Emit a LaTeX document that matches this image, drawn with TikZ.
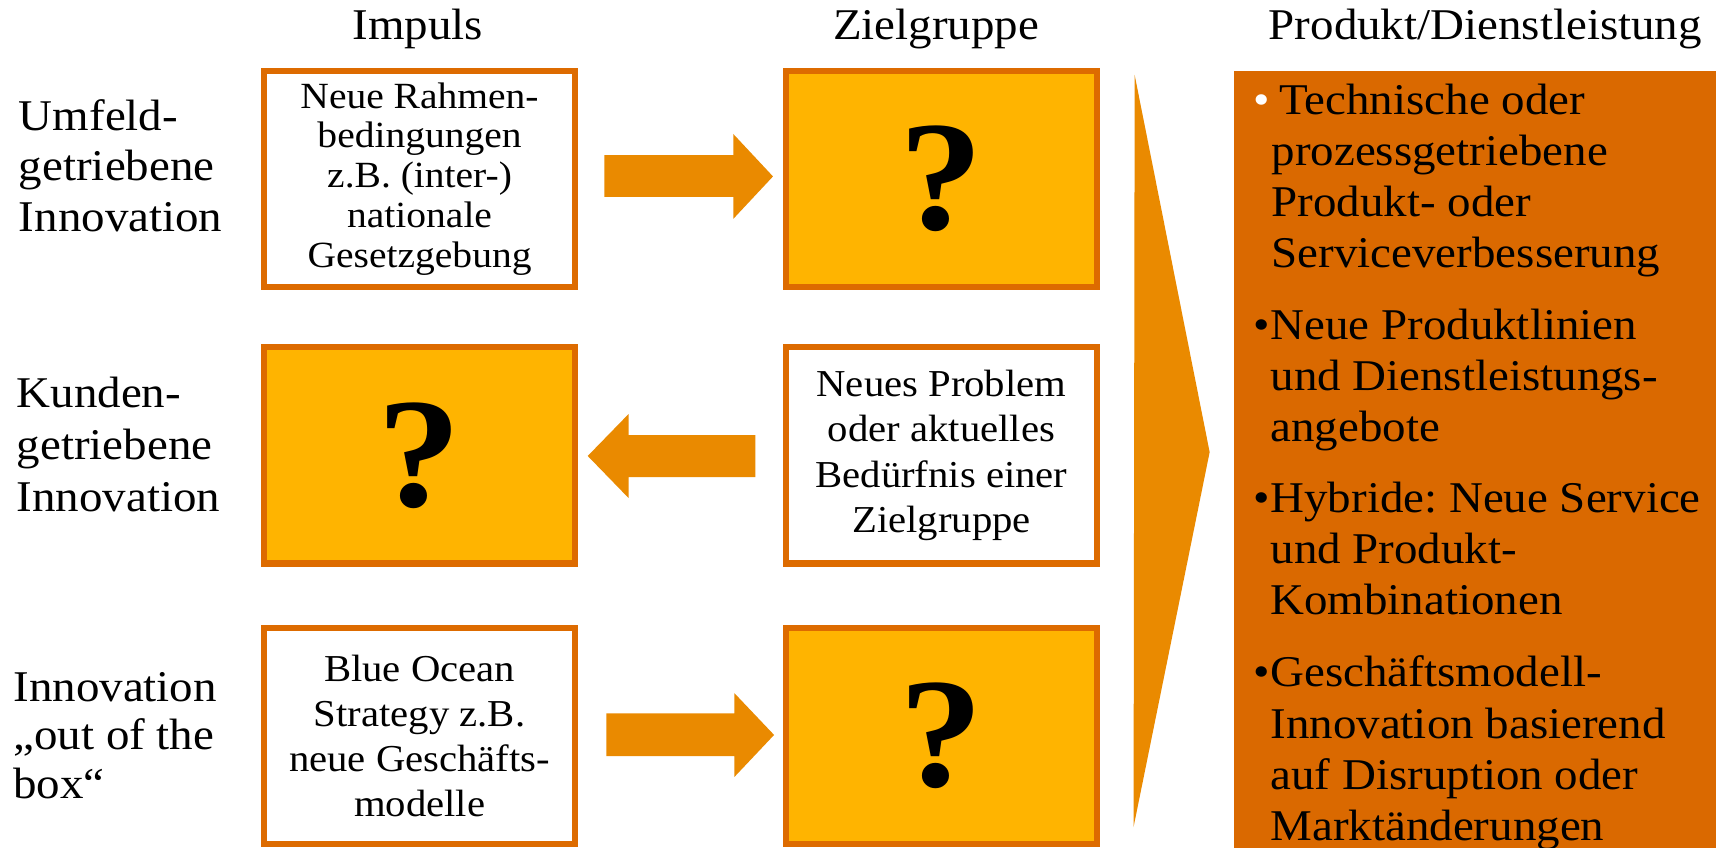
\documentclass[tikz,border=0pt]{standalone}
\usepackage{fontspec}
\setmainfont{Liberation Serif}[FakeStretch=1.07]
\frenchspacing
\definecolor{bord}{HTML}{DD6B00}
\definecolor{gold}{HTML}{FFB400}
\definecolor{arr}{HTML}{EA8A00}
\definecolor{rbox}{HTML}{DA6900}
\begin{document}
\frenchspacing
\begin{tikzpicture}[x=1pt,y=-1pt,
  box/.style={draw=bord, line width=5.5pt, minimum width=281.5pt, minimum height=196pt, inner sep=0pt, align=center},
  whitebox/.style={box, fill=white, font=\fontsize{33.5}{36}\selectfont},
  whitebox2/.style={box, fill=white, font=\fontsize{34.5}{41}\selectfont},
  goldbox/.style={box, fill=gold, font=\fontsize{142}{142}\selectfont\bfseries},
  title/.style={font=\fontsize{39.8}{46}\selectfont, anchor=base, inner sep=0pt},
  lab/.style={font=\fontsize{39.8}{46}\selectfont, anchor=base west, inner sep=0pt},
  rtxt/.style={font=\fontsize{39.8}{46}\selectfont, anchor=base west, inner sep=0pt},
  blockarrow/.style={fill=arr}]
\useasboundingbox (0,0) rectangle (1568,769);
\fill[white] (0,0) rectangle (1568,769);

% titles
\node[title] (tImp) at (379,36) {Impuls};
\node[title] (tZiel) at (849,36) {Zielgruppe};
\node[title] (tProd) at (1347,36) {Produkt/Dienstleistung};

% left labels
\foreach \t [count=\i] in {Umfeld-,getriebene,Innovation}
  \node[lab] (la\i) at (17,{118+(\i-1)*46}) {\t};
\foreach \t [count=\i] in {Kunden-,getriebene,Innovation}
  \node[lab] (lb\i) at (15,{370+(\i-1)*47}) {\t};
\foreach \t [count=\i] in {Innovation,„out of the,box“}
  \node[lab] (lc\i) at (12,{636+(\i-1)*44}) {\t};

% boxes
\node[whitebox] (i1) at (380.5,162.2) {Neue Rahmen-\\bedingungen\\z.B. (inter-)\\nationale\\Gesetzgebung};
\node[goldbox] (z1) at (853.8,162.2) {?};
\node[goldbox] (i2) at (380.5,413) {?};
\node[whitebox2] (z2) at (853.8,413) {Neues Problem\\oder aktuelles\\Bedürfnis einer\\Zielgruppe};
\node[whitebox2] (i3) at (380.5,667.5) {Blue Ocean\\Strategy z.B.\\neue Geschäfts-\\modelle};
\node[goldbox] (z3) at (853.8,667.5) {?};

% block arrows
\fill[blockarrow] (548,140.6) -- (665,140.6) -- (665,121.5) -- (701,160) -- (665,198.5) -- (665,178.6) -- (548,178.6) -- cycle;
\fill[blockarrow] (685,394.5) -- (570,394.5) -- (570,375.5) -- (533,413.5) -- (570,451.6) -- (570,432.6) -- (685,432.6) -- cycle;
\fill[blockarrow] (550,647) -- (666,647) -- (666,628.6) -- (702,666.5) -- (666,704.6) -- (666,685.6) -- (550,685.6) -- cycle;

% chevron
\fill[arr] (1029,68) -- (1097,410) -- (1028,750) -- cycle;

% right box
\fill[rbox] (1119,64) rectangle (1556,790);
\node[rtxt, text=white] (b1) at (1137,104) {•};
\node[rtxt] (r1) at (1160,104) {Technische oder};
\foreach \t [count=\i] in {prozessgetriebene,Produkt- oder,Serviceverbesserung}
  \node[rtxt] (r1\i) at (1153,{104+\i*46.3}) {\t};
\node[rtxt] (b2) at (1137,308) {•};
\foreach \t [count=\i from 0] in {Neue Produktlinien,und Dienstleistungs-,angebote}
  \node[rtxt] (r2\i) at (1152,{308+\i*46.3}) {\t};
\node[rtxt] (b3) at (1137,465) {•};
\foreach \t [count=\i from 0] in {Hybride: Neue Service,und Produkt-,Kombinationen}
  \node[rtxt] (r3\i) at (1152,{465+\i*46.3}) {\t};
\node[rtxt] (b4) at (1137,623) {•};
\foreach \t [count=\i from 0] in {Geschäftsmodell-,Innovation basierend,auf Disruption oder,Marktänderungen}
  \node[rtxt] (r4\i) at (1152,{623+\i*46.3}) {\t};
\end{tikzpicture}
\end{document}
